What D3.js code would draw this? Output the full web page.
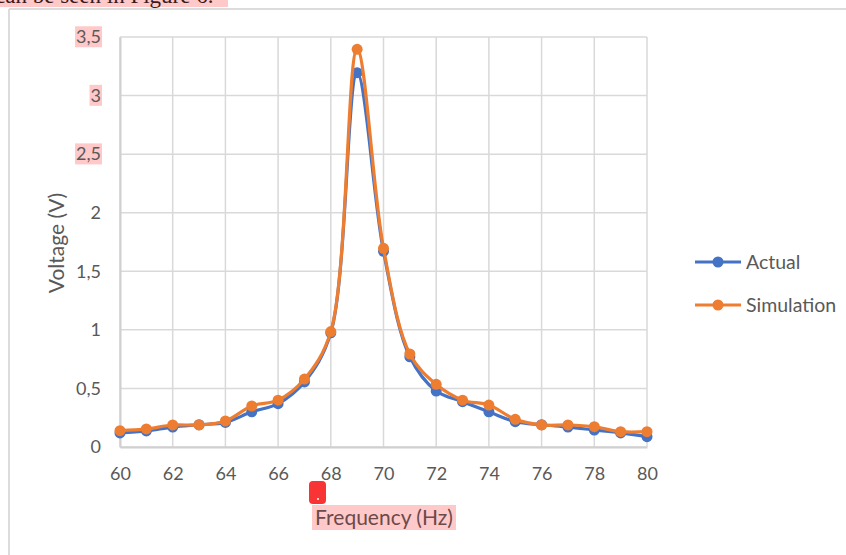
<!DOCTYPE html>
<html>
<head>
<meta charset="utf-8">
<script src="https://cdn.jsdelivr.net/npm/d3@7"></script>
<style>
  html, body { margin: 0; padding: 0; background: #fff; }
  svg { display: block; }
</style>
</head>
<body>
<svg id="chart" width="846" height="555"></svg>
<script>
// Resonance sweep: measured vs simulated voltage
const frequency = [60, 61, 62, 63, 64, 65, 66, 67, 68, 69, 70, 71, 72, 73, 74, 75, 76, 77, 78, 79, 80];
const actual = [0.12, 0.137, 0.17, 0.19, 0.21, 0.30, 0.37, 0.555, 0.975, 3.195, 1.67, 0.77, 0.478, 0.387, 0.30, 0.216, 0.19, 0.17, 0.145, 0.12, 0.088];
const simulation = [0.139, 0.154, 0.188, 0.188, 0.222, 0.35, 0.40, 0.58, 0.985, 3.395, 1.696, 0.794, 0.535, 0.40, 0.358, 0.236, 0.188, 0.188, 0.173, 0.131, 0.131];
const xTicks = [60, 62, 64, 66, 68, 70, 72, 74, 76, 78, 80];
const yTicks = [0, 0.5, 1, 1.5, 2, 2.5, 3, 3.5];
const highlightedY = [2.5, 3, 3.5];
const seriesNames = ["Actual", "Simulation"];
const seriesColors = ["#4472c4", "#ed7d31"];

const svg = d3.select("#chart");
const font = "Lato, 'Open Sans', sans-serif";
const textGray = "#595959";
const pink = "#ffc9c9";

const x = d3.scaleLinear().domain([60, 80]).range([120, 647]);
const y = d3.scaleLinear().domain([0, 3.5]).range([447, 37]);
const fmt = v => String(v).replace(".", ",");

// Surrounding document text and frame
svg.append("rect").attr("x", 0).attr("y", 0).attr("width", 228).attr("height", 7).attr("fill", pink);
svg.append("text").attr("x", -5).attr("y", 3)
  .attr("font-family", "'Liberation Serif', 'DejaVu Serif', serif").attr("font-size", 23)
  .attr("fill", "#3a1a1a").text("can be seen in Figure 6.");
svg.append("line").attr("x1", 9).attr("x2", 846).attr("y1", 9).attr("y2", 9)
  .attr("stroke", "#dcdcdc").attr("stroke-width", 2);
svg.append("line").attr("x1", 9).attr("x2", 9).attr("y1", 9).attr("y2", 555)
  .attr("stroke", "#dcdcdc").attr("stroke-width", 2);

// Gridlines
const grid = svg.append("g");
grid.selectAll(".gy").data(yTicks).join("line")
  .attr("x1", x(60)).attr("x2", x(80))
  .attr("y1", d => y(d)).attr("y2", d => y(d))
  .attr("stroke", "#d9d9d9").attr("stroke-width", 1.5);
grid.selectAll(".gx").data(xTicks).join("line")
  .attr("x1", d => x(d)).attr("x2", d => x(d))
  .attr("y1", y(0)).attr("y2", y(3.5))
  .attr("stroke", "#d9d9d9").attr("stroke-width", 1.5);

// Axes
const yAxis = svg.append("g").attr("transform", `translate(${x(60)},0)`)
  .call(d3.axisLeft(y).tickValues(yTicks).tickSize(0).tickPadding(19).tickFormat(fmt));
const xAxis = svg.append("g").attr("transform", `translate(0,${y(0)})`)
  .call(d3.axisBottom(x).tickValues(xTicks).tickSize(0).tickPadding(20).tickFormat(fmt));
[xAxis, yAxis].forEach(a => {
  a.select(".domain").attr("stroke", "#d0d0d0").attr("stroke-width", 2);
  a.selectAll("text").attr("font-family", font).attr("font-size", 18).attr("fill", textGray);
});

// Highlighted tick labels
yAxis.selectAll(".tick").filter(d => highlightedY.includes(d)).each(function () {
  const t = d3.select(this).select("text");
  const b = t.node().getBBox();
  d3.select(this).insert("rect", "text")
    .attr("x", b.x - 1).attr("y", b.y + 1).attr("width", b.width + 2).attr("height", b.height - 1)
    .attr("fill", pink);
});

// Series
const line = d3.line().x(d => x(d[0])).y(d => y(d[1])).curve(d3.curveCatmullRom.alpha(0.5));
[actual, simulation].forEach((vals, i) => {
  const pts = frequency.map((f, j) => [f, vals[j]]);
  const g = svg.append("g");
  g.append("path").datum(pts).attr("d", line)
    .attr("fill", "none").attr("stroke", seriesColors[i]).attr("stroke-width", 3.2)
    .attr("stroke-linejoin", "round");
  g.selectAll("circle").data(pts).join("circle")
    .attr("cx", d => x(d[0])).attr("cy", d => y(d[1])).attr("r", 5.5)
    .attr("fill", seriesColors[i]);
});

// Axis titles
svg.append("text").attr("transform", "translate(64,243) rotate(-90)")
  .attr("text-anchor", "middle").attr("font-family", font).attr("font-size", 21)
  .attr("fill", textGray).text("Voltage (V)");
const xt = svg.append("g");
xt.append("rect").attr("x", 312).attr("y", 505).attr("width", 144).attr("height", 25)
  .attr("fill", pink);
xt.append("text").attr("x", 384).attr("y", 525)
  .attr("text-anchor", "middle").attr("font-family", font).attr("font-size", 21)
  .attr("fill", "#6b4a4a").text("Frequency (Hz)");

// Comment marker
svg.append("rect").attr("x", 309).attr("y", 481).attr("width", 17).attr("height", 23)
  .attr("rx", 4).attr("fill", "#f83434");
svg.append("circle").attr("cx", 318).attr("cy", 499).attr("r", 1).attr("fill", "#fff");

// Legend
const legend = svg.append("g");
seriesNames.forEach((name, i) => {
  const ly = 262 + i * 43;
  legend.append("line").attr("x1", 695).attr("x2", 741).attr("y1", ly).attr("y2", ly)
    .attr("stroke", seriesColors[i]).attr("stroke-width", 3.2);
  legend.append("circle").attr("cx", 718).attr("cy", ly).attr("r", 5.5).attr("fill", seriesColors[i]);
  legend.append("text").attr("x", 746).attr("y", ly + 7).attr("font-family", font)
    .attr("font-size", 19.5).attr("fill", textGray).text(name);
});
</script>
</body>
</html>
